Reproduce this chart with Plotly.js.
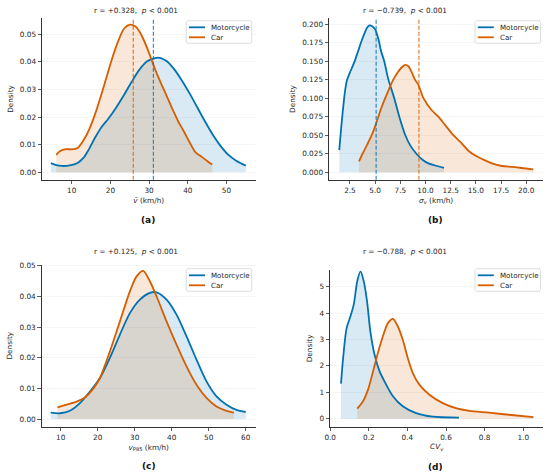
<!DOCTYPE html>
<html><head><meta charset="utf-8">
<script src="https://cdn.plot.ly/plotly-3.0.1.min.js"></script>
<style>html,body{margin:0;padding:0;background:#fff}#chart{width:550px;height:476px}</style>
</head><body><div id="chart"></div>
<script>
// ---------- data ----------
const seriesNames = ["Motorcycle", "Car"];
// (a) mean speed
const aMotoX = [4.6,6,7.5,9.5,11.5,13,14.5,16,17.5,19.5,21.5,23.5,25.5,27.5,29.5,31.5,33,34.5,36.5,38.5,40.5,42.5,44.5,46.5,48.5,50.5,52.5,55];
const aMotoY = [0.0033,0.0026,0.0023,0.0025,0.0034,0.0052,0.0085,0.0125,0.016,0.0195,0.0235,0.028,0.0328,0.0372,0.0402,0.0414,0.0414,0.0403,0.0373,0.0332,0.0285,0.0234,0.0183,0.0135,0.0095,0.0063,0.0042,0.0024];
const aCarX = [6,7,8.5,10,11.5,13,14.5,16,17.5,19,20.5,22,23.5,25,26.5,27.5,28.5,30,31.5,33,34.5,36,37.5,39,40.5,42,43.5,45,46.3];
const aCarY = [0.0063,0.0077,0.0084,0.0083,0.0088,0.0115,0.0155,0.021,0.0275,0.0345,0.0415,0.0475,0.052,0.0535,0.0528,0.051,0.0483,0.0432,0.0375,0.0325,0.0278,0.023,0.0185,0.0148,0.0108,0.0072,0.0057,0.0041,0.0028];
// (b) speed std
const bMotoX = [1.44,1.7,2.0,2.2,2.45,2.7,3.0,3.3,3.6,3.9,4.2,4.45,4.7,5.0,5.3,5.6,5.9,6.3,6.9,7.4,8.0,8.5,9.1,9.7,10.3,10.9,11.84];
const bMotoY = [0.030,0.070,0.108,0.124,0.133,0.141,0.151,0.163,0.175,0.186,0.195,0.198,0.197,0.193,0.181,0.163,0.150,0.126,0.100,0.075,0.050,0.036,0.025,0.017,0.012,0.0095,0.006];
const bCarX = [3.4,3.75,4.2,4.66,5.0,5.32,5.65,6.0,6.4,6.8,7.2,7.6,8.0,8.3,8.6,8.96,9.3,9.8,10.6,11.28,11.94,12.77,13.6,14.26,14.9,15.7,16.6,17.6,18.6,19.55,20.7];
const bCarY = [0.0148,0.025,0.037,0.050,0.062,0.075,0.088,0.100,0.113,0.125,0.134,0.141,0.145,0.143,0.136,0.125,0.118,0.100,0.084,0.075,0.064,0.050,0.039,0.029,0.023,0.0175,0.012,0.0085,0.0072,0.0058,0.004];
// (c) 85th percentile speed
const cMotoX = [7.3,9.8,12.5,15.2,17.9,20.6,23.3,26.0,28.7,31.4,34.1,35.9,38.6,41.3,44.0,46.7,49.4,52.1,54.8,57.5,60.0];
const cMotoY = [0.0021,0.0019,0.0027,0.0052,0.0090,0.0134,0.0200,0.0276,0.0346,0.0390,0.0412,0.0414,0.0390,0.0341,0.0270,0.0194,0.0123,0.0074,0.0047,0.0030,0.0023];
const cCarX = [9.1,11.6,14.3,16.6,18.9,20.6,23.3,26.0,28.7,30.5,32.3,34.1,35.9,38.6,41.3,44.0,46.7,49.4,52.1,54.8,56.8];
const cCarY = [0.0038,0.0047,0.0057,0.0071,0.0101,0.0134,0.0221,0.0319,0.0417,0.0466,0.0484,0.0450,0.0401,0.0319,0.0243,0.0172,0.0112,0.0069,0.0041,0.0027,0.0021];
// (d) coefficient of variation
const dMotoX = [0.056,0.067,0.085,0.105,0.122,0.14,0.157,0.174,0.191,0.208,0.23,0.256,0.29,0.325,0.376,0.445,0.53,0.667];
const dMotoY = [1.33,2.3,3.43,3.88,4.32,5.2,5.58,5.2,4.44,3.31,2.42,1.79,1.29,0.85,0.47,0.21,0.076,0.04];
const dCarX = [0.14,0.17,0.196,0.222,0.247,0.273,0.299,0.325,0.35,0.376,0.402,0.428,0.462,0.514,0.583,0.651,0.72,0.823,0.925,1.053];
const dCarY = [0.38,0.66,1.1,1.79,2.49,3.12,3.62,3.78,3.5,2.99,2.3,1.73,1.29,0.91,0.59,0.40,0.30,0.23,0.15,0.063];
// means (dashed lines)
const meanMoto = [31.1, 5.1, 0.194, 34.9];
const meanCar  = [25.9, 9.35, 0.402, 33.0];
// annotation texts
const corrR = ["+0.328", "\u22120.739", "+0.125", "\u22120.788"];
const panelLabels = ["(a)", "(b)", "(c)", "(d)"];

// ---------- style / layout ----------
const W = 550, H = 476;
const px = v => v / W, py = v => 1 - v / H;
const BLUE = "#0072B2", ORANGE = "#D55E00";
const COLORS = [BLUE, ORANGE];
const FILLB = "rgba(0,114,178,0.15)", FILLO = "rgba(213,94,0,0.15)";
const FONT = "DejaVu Sans";
const FS = 7.3, SUBFS = 5.2;
const it = (t, s) => '<span style="font-style:italic;font-size:' + s + 'px">' + t + '</span>';
const xTitles = [
  it("v\u0304", FS) + " (km/h)",
  it("\u03c3", FS) + "<sub>" + it("v", SUBFS) + "</sub> (km/h)",
  it("v", FS) + '<sub><span style="font-size:' + SUBFS + 'px">P85</span></sub> (km/h)',
  it("CV", FS) + "<sub>" + it("v", SUBFS) + "</sub>"
];

const panels = [
  {mx:aMotoX,my:aMotoY,cx:aCarX,cy:aCarY, xd:[42,255.5], yd:[179.7,18.3], xr:[2.31,57.5], yr:[-0.00268,0.0558], xt:{dtick:10,tick0:0,fmt:"d"}, yt:{dtick:0.01,fmt:".2f"}, title:[136,10], label:[148,220], ystand:5, leg:[251.7,20.7]},
  {mx:bMotoX,my:bMotoY,cx:bCarX,cy:bCarY, xd:[329,543.3], yd:[179.7,18.3], xr:[0.42,21.7], yr:[-0.00998,0.2077], xt:{dtick:2.5,tick0:0,fmt:".1f"}, yt:{dtick:0.025,fmt:".3f"}, title:[405,10], label:[435,220], ystand:5, leg:[540.5,20.7]},
  {mx:cMotoX,my:cMotoY,cx:cCarX,cy:cCarY, xd:[41.7,255.7], yd:[426.7,264.7], xr:[4.86,62.7], yr:[-0.0025,0.0504], xt:{dtick:10,tick0:0,fmt:"d"}, yt:{dtick:0.01,fmt:".2f"}, title:[136,251.3], label:[149,466], ystand:5, leg:[251.7,268.7]},
  {mx:dMotoX,my:dMotoY,cx:dCarX,cy:dCarY, xd:[330,543.3], yd:[426.5,270.3], xr:[-0.001,1.104], yr:[-0.295,5.62], xt:{dtick:0.2,tick0:0,fmt:".1f"}, yt:{dtick:1,fmt:"d"}, title:[405,251.3], label:[435,467], ystand:5, leg:[540.5,268.7]}
];

const traces = [], shapes = [], annotations = [];
const layout = {
  width: W, height: H, margin: {l:0,r:0,t:0,b:0},
  paper_bgcolor: "#fff", plot_bgcolor: "#fff",
  font: {family: FONT, size: FS, color: "#262626"},
  showlegend: false
};

function roundRect(x0, y0, x1, y1, r) {
  const X = v => px(v), Y = v => py(v);
  return "M" + X(x0 + r) + "," + Y(y0) +
    " L" + X(x1 - r) + "," + Y(y0) + " Q" + X(x1) + "," + Y(y0) + " " + X(x1) + "," + Y(y0 + r) +
    " L" + X(x1) + "," + Y(y1 - r) + " Q" + X(x1) + "," + Y(y1) + " " + X(x1 - r) + "," + Y(y1) +
    " L" + X(x0 + r) + "," + Y(y1) + " Q" + X(x0) + "," + Y(y1) + " " + X(x0) + "," + Y(y1 - r) +
    " L" + X(x0) + "," + Y(y0 + r) + " Q" + X(x0) + "," + Y(y0) + " " + X(x0 + r) + "," + Y(y0) + " Z";
}

panels.forEach((p, i) => {
  const n = i === 0 ? "" : String(i + 1);
  const xa = "x" + n, ya = "y" + n;
  traces.push({x:p.mx, y:p.my, xaxis:xa, yaxis:ya, type:"scatter", mode:"lines", fill:"tozeroy", fillcolor:FILLB, line:{width:0, shape:"spline", smoothing:0.8}, showlegend:false, hoverinfo:"skip"});
  traces.push({x:p.cx, y:p.cy, xaxis:xa, yaxis:ya, type:"scatter", mode:"lines", fill:"tozeroy", fillcolor:FILLO, line:{width:0, shape:"spline", smoothing:0.8}, showlegend:false, hoverinfo:"skip"});
  traces.push({x:p.mx, y:p.my, xaxis:xa, yaxis:ya, type:"scatter", mode:"lines", name:seriesNames[0], line:{color:BLUE, width:1.8, shape:"spline", smoothing:0.8}});
  traces.push({x:p.cx, y:p.cy, xaxis:xa, yaxis:ya, type:"scatter", mode:"lines", name:seriesNames[1], line:{color:ORANGE, width:1.8, shape:"spline", smoothing:0.8}});
  shapes.push({type:"line", xref:xa, yref:ya + " domain", x0:meanMoto[i], x1:meanMoto[i], y0:0, y1:1, line:{color:BLUE, width:1.1, dash:"4px,2px"}, opacity:0.85});
  shapes.push({type:"line", xref:xa, yref:ya + " domain", x0:meanCar[i], x1:meanCar[i], y0:0, y1:1, line:{color:ORANGE, width:1.1, dash:"4px,2px"}, opacity:0.85});

  const axCommon = {showline:true, linecolor:"#333", linewidth:1, ticks:"outside", ticklen:3.5, tickwidth:0.8, tickcolor:"#333",
    tickfont:{size:FS, color:"#262626", family:FONT}, zeroline:false, mirror:false, automargin:false, fixedrange:true};
  layout["xaxis" + n] = Object.assign({}, axCommon, {
    domain:[px(p.xd[0]), px(p.xd[1])], range:p.xr, anchor:ya, showgrid:false,
    tick0:p.xt.tick0, dtick:p.xt.dtick, tickformat:p.xt.fmt,
    title:{text:xTitles[i], font:{size:FS, color:"#262626", family:FONT}, standoff:3}
  });
  layout["yaxis" + n] = Object.assign({}, axCommon, {
    domain:[py(p.yd[0]), py(p.yd[1])], range:p.yr, anchor:xa, showgrid:true, gridcolor:"#efefef", gridwidth:0.6,
    tick0:0, dtick:p.yt.dtick, tickformat:p.yt.fmt,
    title:{text:"Density", font:{size:FS, color:"#262626", family:FONT}, standoff:p.ystand}
  });

  const R = p.leg[0], T = p.leg[1];
  shapes.push({type:"path", xref:"paper", yref:"paper", path:roundRect(R - 65.5, T, R, T + 22.6, 2),
    fillcolor:"rgba(255,255,255,0.85)", line:{color:"#d4d4d4", width:0.8}, layer:"above"});
  [0, 1].forEach(k => {
    const yy = T + 6.6 + 10 * k;
    shapes.push({type:"line", xref:"paper", yref:"paper", x0:px(R - 62.7), x1:px(R - 46.7), y0:py(yy), y1:py(yy),
      line:{color:COLORS[k], width:1.8}, layer:"above"});
    annotations.push({xref:"paper", yref:"paper", x:px(R - 42.6), y:py(yy), xanchor:"left", yanchor:"middle", showarrow:false,
      text:seriesNames[k], font:{size:7.1, family:FONT, color:"#262626"}});
  });

  annotations.push({xref:"paper", yref:"paper", x:px(p.title[0]), y:py(p.title[1]), xanchor:"center", yanchor:"middle", showarrow:false,
    text:"r = " + corrR[i] + ",  " + it("p", FS) + " < 0.001", font:{size:FS, family:FONT, color:"#262626"}});
  annotations.push({xref:"paper", yref:"paper", x:px(p.label[0]), y:py(p.label[1]), xanchor:"center", yanchor:"middle", showarrow:false,
    text:panelLabels[i], font:{size:9, family:FONT, color:"#111", weight:"bold"}});
});
layout.shapes = shapes;
layout.annotations = annotations;

Plotly.newPlot("chart", traces, layout, {displayModeBar:false, staticPlot:true});
</script></body></html>
